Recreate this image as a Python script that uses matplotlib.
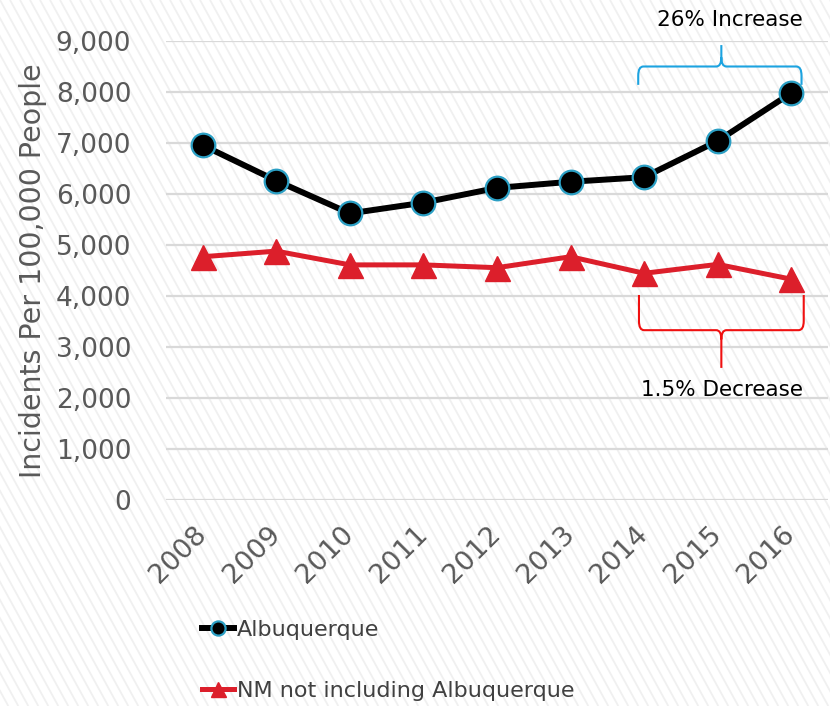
import numpy as np
import matplotlib
matplotlib.use('Agg')
import matplotlib.pyplot as plt
from matplotlib.path import Path
from matplotlib.patches import PathPatch
from matplotlib.collections import LineCollection

years = ['2008', '2009', '2010', '2011', '2012', '2013', '2014', '2015', '2016']
abq = [6955, 6260, 5620, 5830, 6120, 6240, 6330, 7040, 7980]
nm = [4770, 4880, 4610, 4610, 4555, 4770, 4445, 4620, 4330]
yticks = [0, 1000, 2000, 3000, 4000, 5000, 6000, 7000, 8000, 9000]

fig = plt.figure(figsize=(8.3, 7.06), dpi=100)

# striped background
bg = fig.add_axes([0, 0, 1, 1], zorder=-5)
bg.set_xlim(0, 830)
bg.set_ylim(0, 706)
bg.axis('off')
segs = []
for x0 in np.arange(-420, 840, 10):
    segs.append([(x0, 706), (x0 + 706*0.55, 0)])
bg.add_collection(LineCollection(segs, colors='#f0f0f0', linewidths=1.3))

ax = fig.add_axes([166/830, 1-500/706, 662/830, 459/706])
ax.set_facecolor('none')
x = np.arange(len(years))

ax.plot(x, abq, color='black', lw=4.3, marker='o', ms=17, mfc='black',
        mec='#2b9fc4', mew=1.6, label='Albuquerque', zorder=4)
ax.plot(x, nm, color='#dc1f2b', lw=3.6, marker='^', ms=18, mfc='#dc1f2b',
        mec='#dc1f2b', label='NM not including Albuquerque', zorder=3)

ax.set_xlim(-0.5, len(years)-0.5)
ax.set_ylim(0, 9000)
ax.set_yticks(yticks)
ax.set_yticklabels([f'{v:,}' for v in yticks])
ax.set_xticks(x)
ax.set_xticklabels(years, rotation=45, ha='right', va='center',
                   rotation_mode='anchor')
ax.grid(axis='y', color='#d9d9d9', lw=1.6)
ax.set_axisbelow(True)
for s in ax.spines.values():
    s.set_visible(False)
ax.tick_params(axis='both', length=0, colors='#595959', labelsize=19)
ax.tick_params(axis='x', labelsize=19.5)
ax.tick_params(axis='y', pad=25)
ax.tick_params(axis='x', pad=22)
ax.set_ylabel('Incidents Per 100,000 People', fontsize=20.5, color='#595959',
              labelpad=6)


def brace(x0, x1, xm, yh, yend, ytip, color):
    rx, ry = 0.07, 180 * np.sign(yend - yh)
    rt = -ry
    verts = [(x0, yend), (x0, yh + ry), (x0, yh), (x0 + rx, yh),
             (xm - rx, yh), (xm, yh), (xm, yh + rt), (xm, ytip),
             (xm, yh + rt), (xm, yh), (xm + rx, yh),
             (x1 - rx, yh), (x1, yh), (x1, yh + ry), (x1, yend)]
    codes = [Path.MOVETO, Path.LINETO, Path.CURVE3, Path.CURVE3,
             Path.LINETO, Path.CURVE3, Path.CURVE3, Path.LINETO,
             Path.MOVETO, Path.CURVE3, Path.CURVE3,
             Path.LINETO, Path.CURVE3, Path.CURVE3, Path.LINETO]
    ax.add_patch(PathPatch(Path(verts, codes), fill=False, ec=color, lw=1.5,
                           clip_on=False, zorder=5))


brace(5.92, 8.14, 7.05, 8500, 8140, 8920, '#1ca3e0')
brace(5.93, 8.17, 7.05, 3330, 4020, 2590, '#f01010')
ax.text(7.17, 9420, '26% Increase', ha='center', va='center', fontsize=15.5,
        color='black', clip_on=False)
ax.text(7.06, 2150, '1.5% Decrease', ha='center', va='center', fontsize=15.5,
        color='black', clip_on=False)

leg = fig.legend(loc='upper left', bbox_to_anchor=(191/830, 1-609/706),
                 frameon=False, fontsize=16, labelspacing=1.85,
                 handlelength=1.45, handletextpad=0.1, markerscale=0.6,
                 borderpad=0)
for t in leg.get_texts():
    t.set_color('#404040')

fig.savefig('out.png', dpi=100)
